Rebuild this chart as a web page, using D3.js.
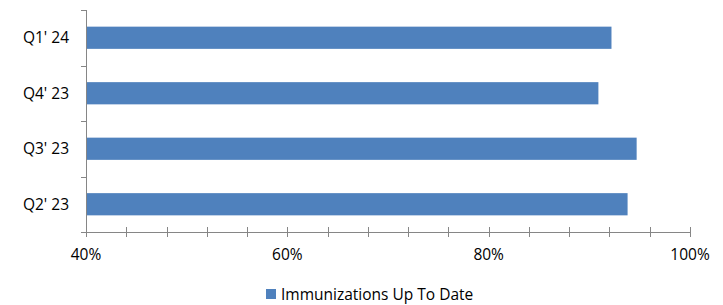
<!DOCTYPE html>
<html>
<head>
<meta charset="utf-8">
<script src="https://cdn.jsdelivr.net/npm/d3@7"></script>
<style>
  body { margin: 0; background: #fff; }
  text { font-family: "Open Sans", "Liberation Sans", sans-serif; fill: #000; }
</style>
</head>
<body>
<div id="chart"></div>
<script>
// Data
const categories = ["Q1' 24", "Q4' 23", "Q3' 23", "Q2' 23"];
const values = [0.922, 0.909, 0.947, 0.938];
const seriesName = "Immunizations Up To Date";
const tickValues = [0.4, 0.6, 0.8, 1.0];

const width = 723;
const height = 305;
const margin = { top: 10, right: 33, bottom: 73, left: 86 };

const svg = d3.select("#chart")
    .append("svg")
        .attr("width", width)
        .attr("height", height);

const x = d3.scaleLinear()
    .domain([0.4, 1.0])
    .range([margin.left, width - margin.right]);

const y = d3.scaleBand()
    .domain(categories)
    .range([margin.top, height - margin.bottom])
    .paddingInner(0.6)
    .paddingOuter(0.3);

const axisColor = "#868686";

// bars
svg.append("g")
    .selectAll("rect")
    .data(categories)
    .join("rect")
        .attr("x", x(0.4))
        .attr("y", d => y(d))
        .attr("width", (d, i) => x(values[i]) - x(0.4))
        .attr("height", y.bandwidth())
        .attr("fill", "#4F81BD");

// y axis line + category separator ticks
const yTop = margin.top, yBot = height - margin.bottom;
const step = (yBot - yTop) / categories.length;
const yAxis = svg.append("g").attr("stroke", axisColor).attr("stroke-width", 1);
yAxis.append("line")
    .attr("x1", x(0.4) + 0.5).attr("x2", x(0.4) + 0.5)
    .attr("y1", yTop).attr("y2", yBot);
yAxis.selectAll(".sep")
    .data(d3.range(categories.length + 1))
    .join("line")
        .attr("x1", x(0.4) - 5).attr("x2", x(0.4) + 0.5)
        .attr("y1", i => Math.round(yTop + i * step) + 0.5)
        .attr("y2", i => Math.round(yTop + i * step) + 0.5);

// category labels
svg.append("g")
    .selectAll("text")
    .data(categories)
    .join("text")
        .attr("x", x(0.4) - 17)
        .attr("y", d => y(d) + y.bandwidth() / 2)
        .attr("dy", "0.35em")
        .attr("text-anchor", "end")
        .attr("font-size", 15.5)
        .text(d => d);

// x axis
const xAxis = svg.append("g").attr("stroke", axisColor).attr("stroke-width", 1);
xAxis.append("line")
    .attr("x1", x(0.4)).attr("x2", x(1.0))
    .attr("y1", yBot + 0.5).attr("y2", yBot + 0.5);
xAxis.selectAll(".tick")
    .data(d3.range(0.4, 1.0001, 0.04))
    .join("line")
        .attr("x1", d => Math.round(x(d)) + 0.5).attr("x2", d => Math.round(x(d)) + 0.5)
        .attr("y1", yBot - 5).attr("y2", yBot + 5);

svg.append("g")
    .selectAll("text")
    .data(tickValues)
    .join("text")
        .attr("x", d => x(d))
        .attr("y", yBot + 28)
        .attr("text-anchor", "middle")
        .attr("font-size", 15.5)
        .text(d => d3.format(".0%")(d));

// legend
const legend = svg.append("g").attr("transform", "translate(266,289)");
legend.append("rect")
    .attr("width", 10).attr("height", 10)
    .attr("fill", "#4F81BD");
legend.append("text")
    .attr("x", 15)
    .attr("y", 11)
    .attr("font-size", 15.5)
    .text(seriesName);
</script>
</body>
</html>
